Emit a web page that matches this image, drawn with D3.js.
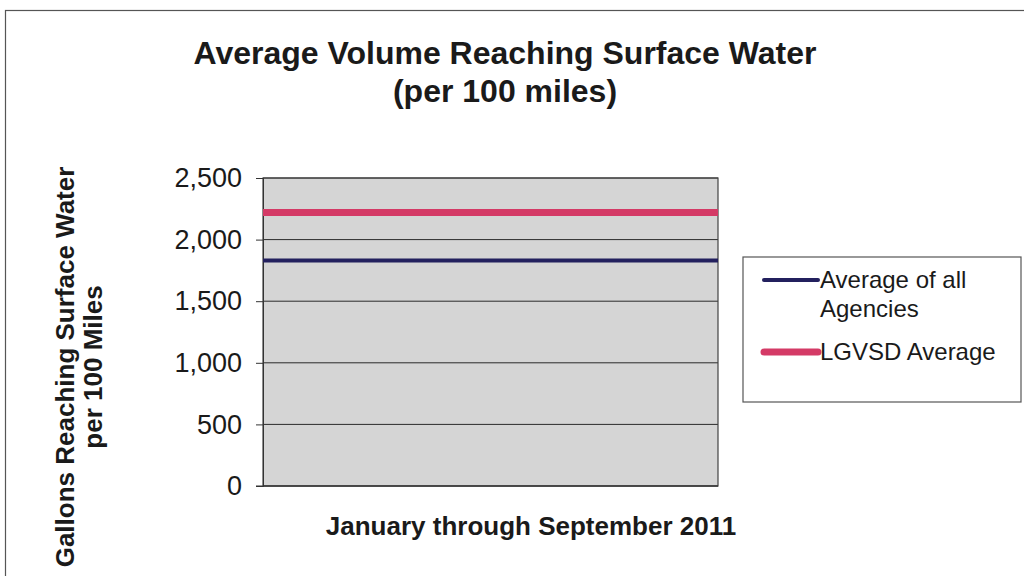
<!DOCTYPE html>
<html>
<head>
<meta charset="utf-8">
<script src="https://cdn.jsdelivr.net/npm/d3@7"></script>
<style>
  html, body { margin: 0; padding: 0; background: #ffffff; }
  svg { display: block; }
  text { font-family: "Liberation Sans", Arial, sans-serif; fill: #1a1a1a; }
</style>
</head>
<body>
<svg id="chart" width="1024" height="576"></svg>
<script>
// ---- data ----
const months = ["Jan", "Feb", "Mar", "Apr", "May", "Jun", "Jul", "Aug", "Sep"];
const allAgencies = [1830, 1830, 1830, 1830, 1830, 1830, 1830, 1830, 1830];
const lgvsd = [2220, 2220, 2220, 2220, 2220, 2220, 2220, 2220, 2220];
const yTicks = [0, 500, 1000, 1500, 2000, 2500];
const seriesNames = ["Average of all|Agencies", "LGVSD Average"];

const svg = d3.select("#chart");

// outer chart border (page frame)
svg.append("rect")
  .attr("x", 5.5).attr("y", 10.5)
  .attr("width", 1040).attr("height", 600)
  .attr("fill", "#ffffff").attr("stroke", "#555").attr("stroke-width", 1.2);

const plot = { left: 263, right: 718, top: 178, bottom: 486 };

const x = d3.scalePoint().domain(months).range([plot.left, plot.right]).padding(0);
const y = d3.scaleLinear().domain([0, 2500]).range([plot.bottom, plot.top]);

// plot background
svg.append("rect")
  .attr("x", plot.left).attr("y", plot.top)
  .attr("width", plot.right - plot.left).attr("height", plot.bottom - plot.top)
  .attr("fill", "#d5d5d5");

// gridlines
svg.append("g")
  .selectAll("line")
  .data(yTicks)
  .join("line")
  .attr("x1", plot.left).attr("x2", plot.right)
  .attr("y1", d => y(d)).attr("y2", d => y(d))
  .attr("stroke", "#2a2a2a").attr("stroke-width", 1);

// plot border
svg.append("rect")
  .attr("x", plot.left).attr("y", plot.top)
  .attr("width", plot.right - plot.left).attr("height", plot.bottom - plot.top)
  .attr("fill", "none").attr("stroke", "#444").attr("stroke-width", 1.2);

// y axis
const yAxis = d3.axisLeft(y).tickValues(yTicks).tickSize(7).tickPadding(14)
  .tickFormat(d3.format(","));
const gy = svg.append("g").attr("transform", `translate(${plot.left},0)`).call(yAxis);
gy.select(".domain").attr("stroke", "#333");
gy.selectAll(".tick line").attr("stroke", "#333");
gy.selectAll(".tick text")
  .attr("font-size", 27)
  .attr("font-family", "'Liberation Sans', Arial, sans-serif")
  .attr("fill", "#1a1a1a");

// x axis baseline
svg.append("line")
  .attr("x1", plot.left - 7).attr("x2", plot.right)
  .attr("y1", plot.bottom).attr("y2", plot.bottom)
  .attr("stroke", "#333").attr("stroke-width", 1.2);

// lines
const line = d3.line().x((d, i) => x(months[i])).y(d => y(d));
svg.append("path").datum(allAgencies)
  .attr("d", line).attr("fill", "none")
  .attr("stroke", "#23205e").attr("stroke-width", 4);
svg.append("path").datum(lgvsd)
  .attr("d", line).attr("fill", "none")
  .attr("stroke", "#d43a66").attr("stroke-width", 7);

// title
const title = svg.append("text")
  .attr("text-anchor", "middle").attr("font-weight", "bold").attr("font-size", 32);
title.append("tspan").attr("x", 505).attr("y", 64).text("Average Volume Reaching Surface Water");
title.append("tspan").attr("x", 505).attr("y", 102).text("(per 100 miles)");

// x axis title
svg.append("text")
  .attr("x", 531).attr("y", 535)
  .attr("text-anchor", "middle").attr("font-weight", "bold").attr("font-size", 26)
  .text("January through September 2011");

// y axis title
const yt = svg.append("text")
  .attr("transform", "rotate(-90)")
  .attr("text-anchor", "middle").attr("font-weight", "bold").attr("font-size", 26);
yt.append("tspan").attr("x", -367).attr("y", 74).text("Gallons Reaching Surface Water");
yt.append("tspan").attr("x", -367).attr("y", 102).text("per 100 Miles");

// legend
const lg = svg.append("g");
lg.append("rect")
  .attr("x", 743).attr("y", 257).attr("width", 278).attr("height", 145)
  .attr("fill", "#ffffff").attr("stroke", "#555").attr("stroke-width", 1.2);
const legendItems = [
  { name: seriesNames[0], color: "#23205e", width: 4, y: 280 },
  { name: seriesNames[1], color: "#d43a66", width: 7, y: 352 }
];
legendItems.forEach(it => {
  lg.append("line")
    .attr("x1", 764).attr("x2", 818).attr("y1", it.y).attr("y2", it.y)
    .attr("stroke", it.color).attr("stroke-width", it.width).attr("stroke-linecap", "round");
  const t = lg.append("text").attr("font-size", 24);
  it.name.split("|").forEach((s, i) => {
    t.append("tspan").attr("x", 820).attr("y", it.y + 8 + i * 29).text(s);
  });
});
</script>
</body>
</html>
